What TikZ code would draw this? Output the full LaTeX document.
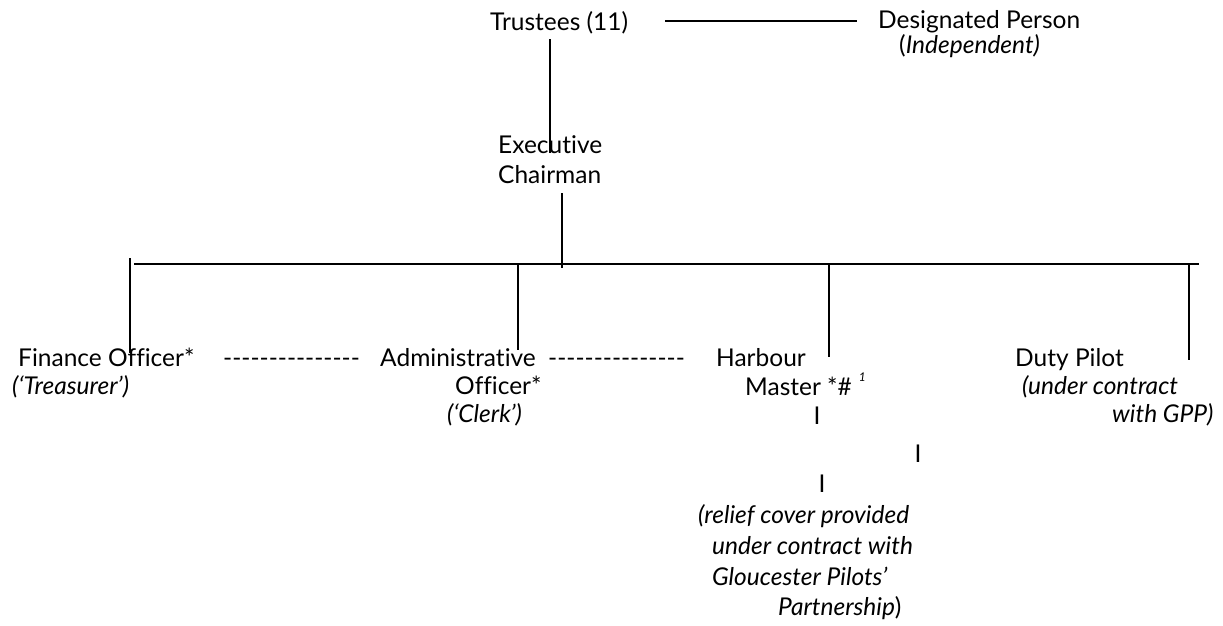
\documentclass[tikz,border=0pt]{standalone}
\usepackage{fontspec}
\setmainfont{Lato}[Ligatures={TeX,NoCommon}]
\usetikzlibrary{positioning}

\begin{document}
\begin{tikzpicture}[x=1pt, y=-1pt,
    lbl/.style={anchor=base west, inner sep=0pt, font=\fontsize{24.5}{29}\selectfont},
    note/.style={lbl, font=\fontsize{24.5}{29}\selectfont\itshape},
    bar/.style={lbl, anchor=base},
    link/.style={line width=1.7pt},
]
\useasboundingbox (0,0) rectangle (1223,625);

% === Trustees and designated person ===
\node[lbl] (trustees) at (490,30) {Trustees (11)};
\node[lbl] (desig) at (878,28) {Designated Person};
\node[lbl] (indep) at (899,53) {(\textit{Independent)}};

% === Executive chairman ===
\node[lbl] (exec) at (498,153) {Executive};
\node[lbl] (chair) at (498,183) {Chairman};

% === Officers (first row) ===
\node[lbl] (fin) at (18,366) {Finance Officer*};
\node[lbl] (fin-adm) at (223,366) {{-}{-}{-}{-}{-}{-}{-}{-}{-}{-}{-}{-}{-}{-}{-}};
\node[lbl] (adm) at (380,366) {Administrative};
\node[lbl] (adm-hm) at (548,366) {{-}{-}{-}{-}{-}{-}{-}{-}{-}{-}{-}{-}{-}{-}{-}};
\node[lbl] (hm) at (716,366) {Harbour};
\node[lbl] (duty) at (1015,366) {Duty Pilot};

% === Second and third lines ===
\node[note] (treas) at (12,394) {(‘Treasurer’)};
\node[lbl] (adm2) at (455,394) {Officer*};
\node[note] (clerk) at (447,422) {(‘Clerk’)};
\node[lbl] (hm2) at (745,395) {Master *\#\hspace{7pt}\raisebox{1.1ex}{\fontsize{12}{12}\selectfont\itshape 1}};
\node[note] (duty2) at (1022,394) {(under contract};
\node[note] (duty3) at (1112,422) {with GPP)};

% === Relief cover ===
\node[bar] (bar1) at (817,424) {I};
\node[bar] (bar2) at (918,462) {I};
\node[bar] (bar3) at (822,492) {I};
\node[note] (rel1) at (698,523) {(relief cover provided};
\node[note] (rel2) at (712,554) {under contract with};
\node[note] (rel3) at (712,585) {Gloucester Pilots’};
\node[note] (rel4) at (778,615) {Partnership\upshape)};

% === Connector ends ===
\coordinate (tr-r) at (665,21);
\coordinate (dp-l) at (857,21);
\coordinate (tr-b) at (550,39);
\coordinate (ec-t) at (550,153);
\coordinate (ec-b) at (562,193);
\coordinate (bus-c) at (562,268);
\coordinate (bus-l) at (134,264);
\coordinate (bus-r) at (1199,264);

\draw[link] (tr-r) -- (dp-l);
\draw[link] (tr-b) -- (ec-t);
\draw[link] (ec-b) -- (bus-c);
\draw[link] (bus-l) -- (bus-r);

% === Drops to officers ===
\foreach \x/\t/\b in {130/258/353, 518/264/350, 829/264/357, 1189/264/360}
  \draw[link] (\x,\t) -- (\x,\b);

\end{tikzpicture}
\end{document}
